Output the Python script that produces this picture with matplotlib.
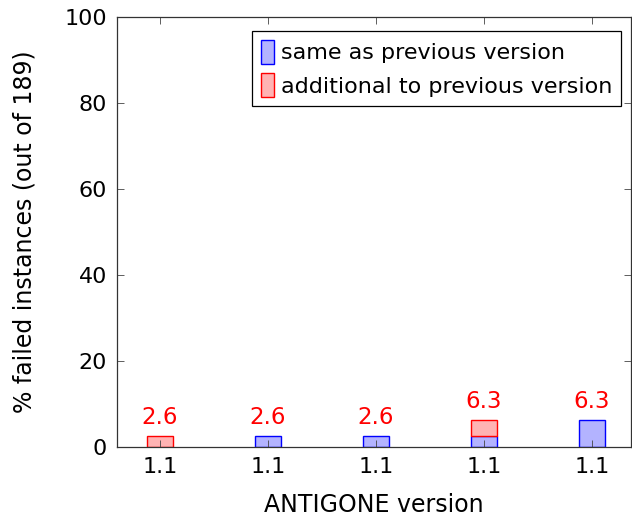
import numpy as np
import matplotlib.pyplot as plt
from matplotlib.patches import Patch

# ── data ───────────────────────────────────────────────────────────────────
versions   = ["1.1", "1.1", "1.1", "1.1", "1.1"]
same       = [0.0, 2.6, 2.6, 2.6, 6.3]
additional = [2.6, 0.0, 0.0, 3.7, 0.0]
totals     = [2.6, 2.6, 2.6, 6.3, 6.3]

plt.rcParams["font.family"] = ["DejaVu Sans"]
plt.rcParams["font.size"] = 16

fig = plt.figure(figsize=(6.32, 5.18), dpi=100)
ax = fig.add_axes([0.185, 0.137, 0.813, 0.830])

x = np.arange(len(versions))
w = 0.247
blue_face, blue_edge = "#b3b3ff", "#0000ff"
red_face, red_edge = "#ffb3b3", "#ff0000"

for xi, s, a in zip(x, same, additional):
    if s > 0:
        ax.bar(xi, s, w, color=blue_face, edgecolor=blue_edge, lw=1.0)
    if a > 0:
        ax.bar(xi, a, w, bottom=s, color=red_face, edgecolor=red_edge, lw=1.0)

for xi, t in zip(x, totals):
    ax.text(xi, t + 1.5, f"{t:.1f}", ha="center", va="bottom",
            color="#ff0000", fontsize=16.5)

ax.set_xlim(-0.4, 4.36)
ax.set_ylim(0, 100)
ax.set_xticks(x)
ax.set_xticklabels(versions)
ax.set_yticks([0, 20, 40, 60, 80, 100])
ax.tick_params(direction="in", top=True, right=True, length=5, width=0.6,
               color="#444444", pad=7)
for sp in ax.spines.values():
    sp.set_linewidth(0.9)
    sp.set_color("#333333")

ax.set_xlabel("ANTIGONE version", fontsize=17, labelpad=12)
ax.set_ylabel("% failed instances (out of 189)", fontsize=17, labelpad=20)

handles = [Patch(facecolor=blue_face, edgecolor=blue_edge),
           Patch(facecolor=red_face, edgecolor=red_edge)]
leg = ax.legend(handles, ["same as previous version",
                          "additional to previous version"],
                loc="upper right", bbox_to_anchor=(0.99, 0.978),
                fancybox=False, framealpha=1, edgecolor="black",
                handlelength=0.6, handleheight=1.3, handletextpad=0.3,
                borderpad=0.4, labelspacing=0.4, borderaxespad=0.2,
                fontsize=16)
leg.get_frame().set_linewidth(0.9)

fig.savefig("out.png", dpi=100)
